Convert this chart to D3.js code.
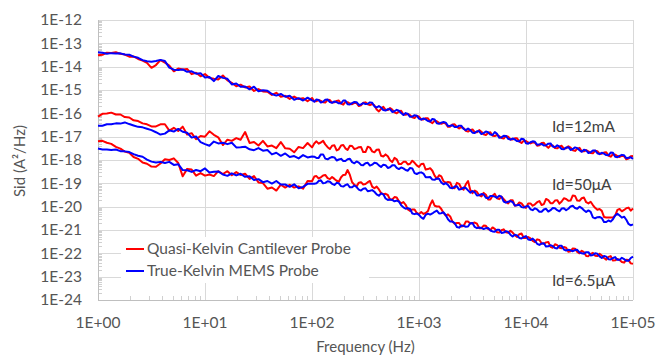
<!DOCTYPE html>
<html>
<head>
<meta charset="utf-8">
<script src="https://cdn.jsdelivr.net/npm/d3@7"></script>
<style>
  html, body { margin: 0; padding: 0; background: #ffffff; }
  svg { display: block; }
  text { font-family: Lato, "Open Sans", sans-serif; }
</style>
</head>
<body>
<svg id="chart" width="657" height="356"></svg>
<script>
// Frequency points (Hz), shared by every trace
const freq = [
  1, 1.1, 1.21, 1.33, 1.47, 1.62, 1.78, 1.96, 2.15, 2.37, 2.61, 2.87, 3.16, 3.48, 3.83, 4.22, 4.64, 5.11, 5.62, 6.19, 6.81, 7.5, 8.25, 9.09,
  10, 11, 12.1, 13.3, 14.7, 16.2, 17.8, 19.6, 21.5, 23.7, 26.1, 28.7, 31.6, 34.8, 38.3, 42.2, 46.4, 51.1, 56.2, 61.9, 68.1, 75, 82.5, 90.9,
  100, 105, 110, 115.5, 121, 127, 133, 140, 147, 154, 162, 170, 178, 187, 196, 205, 215, 226, 237, 249, 261, 274, 287, 301,
  316, 332, 348, 365, 383, 402, 422, 442, 464, 487, 511, 536, 562, 590, 619, 649, 681, 715, 750, 787, 825, 866, 909, 953,
  1000, 1049, 1101, 1155, 1212, 1271, 1334, 1399, 1468, 1540, 1616, 1696, 1778, 1866, 1957, 2054, 2154, 2261, 2371, 2489, 2610, 2738, 2873, 3013,
  3162, 3317, 3481, 3652, 3831, 4020, 4217, 4424, 4642, 4870, 5109, 5358, 5623, 5898, 6190, 6494, 6813, 7149, 7499, 7868, 8254, 8660, 9085, 9532,
  10000, 10490, 11010, 11550, 12120, 12710, 13340, 13990, 14680, 15400, 16160, 16960, 17780, 18660, 19570, 20540, 21540, 22610, 23710, 24890, 26100, 27380, 28730, 30130,
  31620, 33170, 34810, 36520, 38310, 40200, 42170, 44240, 46420, 48700, 51090, 53580, 56230, 58980, 61900, 64940, 68130, 71490, 74990, 78680, 82540, 86600, 90850, 95320,
  100000
];

// log10 of Sid (A^2/Hz) for each trace
const quasi12mA = [
  -13.51,-13.49,-13.40,-13.41,-13.38,-13.45,-13.48,-13.57,-13.56,-13.67,-13.74,-13.84,-14.05,-13.93,-13.72,-13.83,-13.95,-14.20,-14.08,-14.12,
  -14.10,-14.32,-14.26,-14.41,-14.32,-14.48,-14.52,-14.55,-14.38,-14.59,-14.69,-14.84,-14.77,-14.89,-14.85,-15.04,-14.96,-15.06,-15.07,-15.21,
  -15.12,-15.29,-15.25,-15.38,-15.28,-15.39,-15.35,-15.48,
  -15.34,-15.48,-15.48,-15.43,-15.47,-15.53,-15.54,-15.42,-15.43,-15.54,-15.53,-15.47,-15.45,-15.58,-15.63,-15.51,-15.52,-15.58,-15.61,-15.55,-15.56,-15.69,-15.66,-15.55,
  -15.53,-15.61,-15.65,-15.60,-15.66,-15.84,-15.92,-15.81,-15.72,-15.85,-15.86,-15.77,-15.84,-15.96,-16.00,-15.92,-15.89,-16.05,-16.06,-16.02,-16.08,-16.17,-16.20,-16.10,
  -16.14,-16.26,-16.26,-16.21,-16.21,-16.36,-16.42,-16.32,-16.34,-16.41,-16.45,-16.41,-16.44,-16.58,-16.57,-16.48,-16.47,-16.58,-16.65,-16.58,-16.63,-16.75,-16.78,-16.72,
  -16.69,-16.81,-16.81,-16.72,-16.79,-16.90,-16.93,-16.84,-16.81,-16.96,-16.97,-16.93,-16.98,-17.06,-17.08,-16.97,-17.00,-17.12,-17.12,-17.07,-17.07,-17.21,-17.27,-17.17,
  -17.19,-17.25,-17.29,-17.24,-17.26,-17.39,-17.37,-17.27,-17.26,-17.39,-17.48,-17.37,-17.38,-17.49,-17.50,-17.43,-17.39,-17.51,-17.50,-17.41,-17.47,-17.58,-17.61,-17.52,
  -17.48,-17.63,-17.63,-17.58,-17.63,-17.70,-17.71,-17.60,-17.62,-17.73,-17.73,-17.68,-17.67,-17.81,-17.86,-17.75,-17.77,-17.83,-17.87,-17.82,-17.84,-17.97,-17.94,-17.84,
  -17.83
];
const trueKelvin12mA = [
  -13.38,-13.40,-13.45,-13.42,-13.44,-13.43,-13.48,-13.49,-13.57,-13.62,-13.72,-13.77,-13.79,-13.76,-13.71,-13.76,-14.04,-14.13,-14.14,-14.12,
  -14.22,-14.20,-14.30,-14.28,-14.46,-14.44,-14.62,-14.40,-14.48,-14.52,-14.76,-14.72,-14.86,-14.85,-14.97,-14.86,-15.05,-15.01,-15.03,-15.17,
  -15.24,-15.17,-15.29,-15.25,-15.42,-15.35,-15.45,-15.33,
  -15.44,-15.50,-15.41,-15.43,-15.54,-15.50,-15.42,-15.41,-15.52,-15.55,-15.49,-15.52,-15.57,-15.57,-15.45,-15.45,-15.61,-15.62,-15.56,-15.51,-15.52,-15.64,-15.62,-15.56,
  -15.60,-15.59,-15.53,-15.55,-15.70,-15.75,-15.69,-15.75,-15.86,-15.88,-15.82,-15.82,-15.94,-15.91,-15.85,-15.89,-15.99,-16.07,-15.99,-16.03,-16.15,-16.14,-16.08,-16.10,
  -16.23,-16.27,-16.22,-16.26,-16.33,-16.35,-16.24,-16.26,-16.43,-16.45,-16.40,-16.37,-16.40,-16.54,-16.53,-16.51,-16.59,-16.59,-16.53,-16.53,-16.67,-16.72,-16.65,-16.72,
  -16.83,-16.84,-16.77,-16.77,-16.89,-16.85,-16.78,-16.81,-16.91,-16.93,-16.80,-16.88,-17.05,-17.03,-16.96,-16.97,-17.09,-17.13,-17.08,-17.12,-17.19,-17.20,-17.09,-17.11,
  -17.28,-17.30,-17.24,-17.20,-17.22,-17.35,-17.33,-17.31,-17.38,-17.37,-17.30,-17.29,-17.42,-17.45,-17.37,-17.43,-17.53,-17.54,-17.46,-17.45,-17.57,-17.53,-17.46,-17.49,
  -17.58,-17.65,-17.56,-17.59,-17.70,-17.67,-17.59,-17.59,-17.71,-17.75,-17.69,-17.73,-17.79,-17.80,-17.68,-17.69,-17.86,-17.88,-17.82,-17.78,-17.80,-17.92,-17.90,-17.88,
  -17.95
];
const quasi50uA = [
  -16.14,-16.02,-16.01,-15.97,-16.05,-16.05,-16.16,-16.18,-16.30,-16.33,-16.43,-16.47,-16.56,-16.56,-16.47,-16.47,-16.74,-16.62,-16.76,-16.57,
  -16.91,-16.85,-17.11,-16.97,-17.00,-16.77,-16.92,-17.03,-17.36,-17.13,-17.18,-17.06,-17.13,-16.80,-17.27,-17.23,-17.38,-17.18,-17.42,-17.38,
  -17.49,-17.23,-17.50,-17.52,-17.67,-17.44,-17.49,-17.27,
  -17.46,-17.29,-17.20,-17.30,-17.25,-17.18,-17.33,-17.45,-17.53,-17.39,-17.37,-17.59,-17.54,-17.38,-17.36,-17.50,-17.57,-17.39,-17.40,-17.53,-17.50,-17.45,-17.44,-17.66,
  -17.66,-17.43,-17.47,-17.63,-17.67,-17.56,-17.55,-17.82,-17.85,-17.76,-17.84,-18.01,-18.09,-17.91,-17.97,-18.17,-18.17,-18.08,-18.07,-18.19,-18.16,-18.03,-18.12,-18.23,
  -18.30,-18.17,-18.16,-18.41,-18.39,-18.35,-18.46,-18.67,-18.80,-18.65,-18.70,-18.92,-18.97,-18.94,-18.96,-19.19,-19.21,-18.98,-19.02,-19.21,-19.27,-19.04,-18.90,-19.28,
  -19.42,-19.31,-19.37,-19.51,-19.56,-19.41,-19.49,-19.69,-19.69,-19.53,-19.45,-19.64,-19.68,-19.57,-19.68,-19.79,-19.86,-19.73,-19.72,-19.96,-19.93,-19.82,-19.86,-19.99,
  -20.05,-19.86,-19.86,-19.96,-19.90,-19.81,-19.76,-19.93,-19.89,-19.67,-19.72,-19.85,-19.85,-19.74,-19.72,-19.87,-19.78,-19.64,-19.67,-19.75,-19.74,-19.52,-19.54,-19.74,
  -19.75,-19.64,-19.61,-19.81,-19.86,-19.79,-19.93,-20.05,-20.13,-20.10,-20.18,-20.44,-20.46,-20.46,-20.46,-20.46,-20.38,-20.14,-20.10,-20.20,-20.14,-20.07,-20.04,-20.17,
  -20.08
];
const trueKelvin50uA = [
  -16.53,-16.53,-16.47,-16.47,-16.43,-16.44,-16.39,-16.46,-16.52,-16.58,-16.60,-16.66,-16.72,-16.81,-16.91,-16.87,-16.73,-16.78,-16.67,-16.79,
  -16.83,-17.04,-16.99,-17.23,-17.32,-17.39,-17.21,-17.29,-17.26,-17.32,-17.26,-17.46,-17.45,-17.43,-17.54,-17.58,-17.49,-17.60,-17.57,-17.76,
  -17.69,-17.82,-17.72,-17.87,-17.83,-17.93,-17.79,-17.89,
  -17.85,-17.86,-17.91,-17.91,-17.76,-17.76,-17.94,-17.97,-17.91,-17.87,-17.89,-18.02,-17.98,-17.95,-18.04,-18.04,-17.97,-17.95,-18.09,-18.14,-18.06,-18.11,-18.21,-18.22,
  -18.14,-18.12,-18.24,-18.20,-18.12,-18.14,-18.23,-18.30,-18.20,-18.22,-18.34,-18.31,-18.23,-18.22,-18.34,-18.39,-18.32,-18.36,-18.43,-18.46,-18.34,-18.36,-18.56,-18.60,
  -18.55,-18.53,-18.58,-18.74,-18.74,-18.73,-18.84,-18.85,-18.79,-18.80,-18.96,-19.04,-18.99,-19.07,-19.19,-19.21,-19.14,-19.13,-19.27,-19.24,-19.18,-19.20,-19.30,-19.40,
  -19.33,-19.38,-19.52,-19.51,-19.46,-19.48,-19.62,-19.64,-19.54,-19.54,-19.57,-19.62,-19.53,-19.57,-19.78,-19.83,-19.79,-19.76,-19.80,-19.95,-19.94,-19.92,-20.02,-20.04,
  -19.99,-19.97,-20.11,-20.15,-20.07,-20.12,-20.22,-20.22,-20.12,-20.09,-20.21,-20.15,-20.06,-20.07,-20.15,-20.20,-20.08,-20.07,-20.15,-20.09,-19.99,-19.96,-20.06,-20.09,
  -20.00,-20.06,-20.15,-20.23,-20.16,-20.22,-20.46,-20.50,-20.45,-20.44,-20.49,-20.66,-20.66,-20.59,-20.64,-20.54,-20.38,-20.30,-20.38,-20.47,-20.43,-20.56,-20.74,-20.80,
  -20.76
];
const quasi6p5uA = [
  -17.20,-17.18,-17.26,-17.31,-17.44,-17.51,-17.64,-17.69,-17.87,-17.95,-18.11,-18.16,-18.28,-18.29,-18.15,-17.97,-18.00,-17.93,-18.13,-18.70,
  -18.38,-18.41,-18.67,-18.56,-18.67,-18.62,-18.69,-18.48,-18.60,-18.48,-18.65,-18.52,-18.64,-18.59,-18.81,-18.69,-18.96,-18.99,-19.23,-19.18,
  -19.31,-19.06,-19.18,-19.06,-19.18,-19.13,-19.23,-18.90,
  -18.91,-18.71,-18.69,-18.79,-18.74,-18.66,-18.64,-18.78,-18.82,-18.73,-18.81,-18.89,-18.93,-18.74,-18.64,-18.63,-18.43,-18.64,-18.95,-19.07,-19.13,-18.97,-18.95,-19.05,
  -19.03,-18.95,-18.90,-19.14,-19.21,-19.14,-19.26,-19.41,-19.47,-19.45,-19.50,-19.69,-19.69,-19.59,-19.61,-19.77,-19.86,-19.80,-19.92,-20.12,-20.18,-20.12,-20.12,-20.27,
  -20.32,-20.23,-20.31,-20.27,-20.19,-19.92,-19.73,-19.96,-19.99,-19.99,-20.10,-20.27,-20.38,-20.33,-20.42,-20.64,-20.73,-20.70,-20.70,-20.85,-20.83,-20.64,-20.64,-20.72,
  -20.71,-20.68,-20.73,-20.92,-20.92,-20.81,-20.82,-20.95,-21.01,-20.89,-20.95,-21.10,-21.11,-21.01,-20.97,-21.10,-21.12,-21.03,-21.11,-21.22,-21.30,-21.18,-21.15,-21.34,
  -21.34,-21.30,-21.36,-21.47,-21.52,-21.40,-21.43,-21.57,-21.59,-21.53,-21.51,-21.72,-21.76,-21.61,-21.65,-21.76,-21.78,-21.73,-21.76,-21.93,-21.91,-21.79,-21.80,-21.94,
  -22.00,-21.89,-21.95,-22.11,-22.12,-22.02,-21.98,-22.10,-22.11,-22.02,-22.09,-22.20,-22.27,-22.15,-22.12,-22.31,-22.30,-22.24,-22.29,-22.37,-22.40,-22.27,-22.29,-22.43,
  -22.45
];
const trueKelvin6p5uA = [
  -17.51,-17.55,-17.55,-17.57,-17.55,-17.62,-17.63,-17.66,-17.75,-17.82,-17.86,-17.98,-18.07,-18.11,-18.08,-18.13,-18.08,-18.21,-18.18,-18.43,
  -18.44,-18.51,-18.43,-18.48,-18.36,-18.54,-18.50,-18.49,-18.62,-18.68,-18.57,-18.66,-18.59,-18.72,-18.70,-18.86,-18.82,-18.95,-18.90,-19.01,
  -18.90,-19.05,-19.05,-19.15,-19.04,-19.21,-19.15,-19.02,
  -19.02,-19.02,-19.00,-18.90,-18.87,-19.00,-18.98,-18.91,-18.93,-19.02,-19.07,-18.98,-19.00,-19.12,-19.14,-19.08,-19.04,-19.17,-19.17,-19.09,-19.16,-19.27,-19.31,-19.23,
  -19.21,-19.34,-19.32,-19.29,-19.36,-19.47,-19.53,-19.43,-19.47,-19.65,-19.71,-19.69,-19.71,-19.77,-19.74,-19.78,-19.94,-20.03,-20.09,-20.06,-20.10,-20.29,-20.32,-20.29,
  -20.35,-20.46,-20.52,-20.35,-20.30,-20.34,-20.29,-20.22,-20.17,-20.29,-20.28,-20.24,-20.36,-20.54,-20.64,-20.64,-20.70,-20.87,-20.90,-20.81,-20.82,-20.86,-20.85,-20.71,
  -20.70,-20.87,-20.92,-20.89,-20.91,-20.96,-20.92,-20.91,-21.02,-21.06,-21.07,-20.99,-20.99,-21.13,-21.11,-21.05,-21.08,-21.20,-21.28,-21.20,-21.23,-21.34,-21.36,-21.30,
  -21.26,-21.41,-21.43,-21.37,-21.46,-21.59,-21.64,-21.58,-21.57,-21.71,-21.70,-21.65,-21.69,-21.77,-21.79,-21.67,-21.68,-21.84,-21.88,-21.85,-21.87,-21.91,-21.86,-21.85,
  -21.96,-22.00,-22.02,-21.95,-21.95,-22.09,-22.07,-22.00,-22.02,-22.13,-22.20,-22.11,-22.14,-22.25,-22.26,-22.20,-22.16,-22.28,-22.28,-22.19,-22.25,-22.32,-22.32,-22.20,
  -22.14
];

const xTickLabels = ["1E+00", "1E+01", "1E+02", "1E+03", "1E+04", "1E+05"];
const yTickLabels = ["1E-24", "1E-23", "1E-22", "1E-21", "1E-20", "1E-19", "1E-18",
                     "1E-17", "1E-16", "1E-15", "1E-14", "1E-13", "1E-12"];
const seriesNames = ["Quasi-Kelvin Cantilever Probe", "True-Kelvin MEMS Probe"];
const seriesColors = ["#ff0000", "#0000ff"];
const curveLabels = [
  { text: "Id=12mA",  f: 17500, v: 2.6e-17 },
  { text: "Id=50\u03bcA", f: 17500, v: 8.5e-20 },
  { text: "Id=6.5\u03bcA", f: 17500, v: 6.5e-24 }
];

(function drawChart() {
  const svg = d3.select("#chart");
  const plotLeft = 98, plotRight = 633, plotTop = 20, plotBottom = 300;

  const x = d3.scaleLog().domain([1, 1e5]).range([plotLeft, plotRight]);
  const y = d3.scaleLog().domain([1e-24, 1e-12]).range([plotBottom, plotTop]);

  const gridColor = "#d9d9d9";
  const labelColor = "#555555";

  // decade gridlines
  const xDecades = xTickLabels.map(s => +s);
  const yDecades = yTickLabels.map(s => +s);

  svg.append("g").selectAll("line").data(yDecades).join("line")
    .attr("x1", plotLeft).attr("x2", plotRight)
    .attr("y1", d => Math.round(y(d)) + 0.5).attr("y2", d => Math.round(y(d)) + 0.5)
    .attr("stroke", gridColor).attr("stroke-width", 1);

  svg.append("g").selectAll("line").data(xDecades).join("line")
    .attr("y1", plotTop).attr("y2", plotBottom)
    .attr("x1", d => Math.round(x(d)) + 0.5).attr("x2", d => Math.round(x(d)) + 0.5)
    .attr("stroke", gridColor).attr("stroke-width", 1);

  // minor ticks along the left and bottom edges
  const yMinor = [];
  yDecades.slice(0, -1).forEach(d => { for (let m = 2; m <= 9; m++) yMinor.push(d * m); });
  const xMinor = [];
  xDecades.slice(0, -1).forEach(d => { for (let m = 2; m <= 9; m++) xMinor.push(d * m); });

  svg.append("g").selectAll("line").data(yMinor).join("line")
    .attr("x1", plotLeft).attr("x2", plotLeft + 4)
    .attr("y1", d => Math.round(y(d)) + 0.5).attr("y2", d => Math.round(y(d)) + 0.5)
    .attr("stroke", "#d0d0d0").attr("stroke-width", 1);

  svg.append("g").selectAll("line").data(xMinor).join("line")
    .attr("y1", plotBottom).attr("y2", plotBottom - 4)
    .attr("x1", d => Math.round(x(d)) + 0.5).attr("x2", d => Math.round(x(d)) + 0.5)
    .attr("stroke", "#d0d0d0").attr("stroke-width", 1);

  // axis lines
  svg.append("line").attr("x1", plotLeft + 0.5).attr("x2", plotLeft + 0.5)
    .attr("y1", plotTop).attr("y2", plotBottom).attr("stroke", "#bfbfbf");
  svg.append("line").attr("x1", plotLeft).attr("x2", plotRight)
    .attr("y1", plotBottom + 0.5).attr("y2", plotBottom + 0.5).attr("stroke", "#bfbfbf");

  // tick labels
  svg.append("g").selectAll("text").data(yTickLabels).join("text")
    .attr("x", 82).attr("y", d => y(+d))
    .attr("dy", "0.35em").attr("text-anchor", "end")
    .attr("font-size", 15.5).attr("fill", labelColor)
    .text(d => d);

  svg.append("g").selectAll("text").data(xTickLabels).join("text")
    .attr("x", d => x(+d)).attr("y", 323)
    .attr("dy", "0.35em").attr("text-anchor", "middle")
    .attr("font-size", 15.5).attr("fill", labelColor)
    .text(d => d);

  // axis titles
  svg.append("text").attr("x", (plotLeft + plotRight) / 2).attr("y", 347).attr("dy", "0.35em")
    .attr("text-anchor", "middle").attr("font-size", 15).attr("fill", labelColor)
    .text("Frequency (Hz)");
  svg.append("text").attr("transform", "translate(20,161) rotate(-90)").attr("dy", "0.35em")
    .attr("text-anchor", "middle").attr("font-size", 15).attr("fill", labelColor)
    .text("Sid (A\u00b2/Hz)");

  // legend panel
  const legend = svg.append("g");
  legend.append("rect").attr("x", 121).attr("y", 237).attr("width", 248).attr("height", 46)
    .attr("fill", "#ffffff");
  seriesNames.forEach((name, i) => {
    const ly = 249 + i * 22;
    legend.append("line").attr("x1", 126).attr("x2", 144).attr("y1", ly).attr("y2", ly)
      .attr("stroke", seriesColors[i]).attr("stroke-width", 2);
    legend.append("text").attr("x", 147).attr("y", ly).attr("dy", "0.35em")
      .attr("font-size", 15.5).attr("fill", labelColor).text(name);
  });

  // traces
  const line = d3.line()
    .x((d, i) => x(freq[i]))
    .y(d => y(Math.pow(10, d)));

  const traces = [
    { data: quasi12mA, color: seriesColors[0] },
    { data: quasi50uA, color: seriesColors[0] },
    { data: quasi6p5uA, color: seriesColors[0] },
    { data: trueKelvin12mA, color: seriesColors[1] },
    { data: trueKelvin50uA, color: seriesColors[1] },
    { data: trueKelvin6p5uA, color: seriesColors[1] }
  ];

  svg.append("g").selectAll("path").data(traces).join("path")
    .attr("d", d => line(d.data))
    .attr("fill", "none")
    .attr("stroke", d => d.color)
    .attr("stroke-width", 2)
    .attr("stroke-linejoin", "round");

  // current labels
  svg.append("g").selectAll("text").data(curveLabels).join("text")
    .attr("x", d => x(d.f)).attr("y", d => y(d.v)).attr("dy", "0.35em")
    .attr("font-size", 15.5).attr("fill", "#404040")
    .text(d => d.text);
})();
</script>
</body>
</html>
